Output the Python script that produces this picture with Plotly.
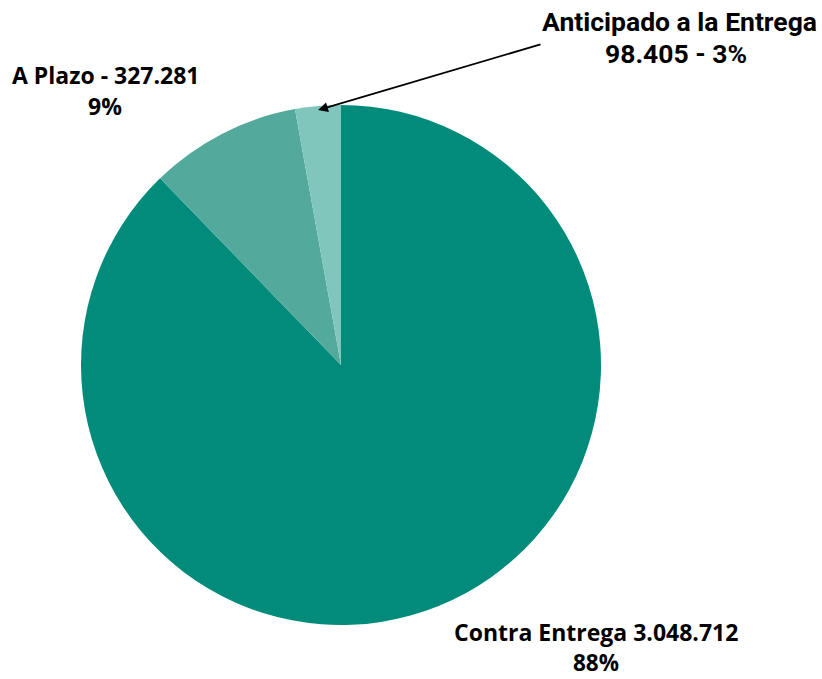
import plotly.graph_objects as go

# Payment-type breakdown
labels = ["Contra Entrega", "A Plazo", "Anticipado a la Entrega"]
values = [3048712, 327281, 98405]
colors = ["#008b7a", "#52a99c", "#80c6bc"]

W, H = 822, 679
cx, cy, r = 341, 365, 260

fig = go.Figure(go.Pie(
    labels=labels,
    values=values,
    marker=dict(colors=colors, line=dict(width=0)),
    sort=False,
    direction="clockwise",
    rotation=0,
    textinfo="none",
    hoverinfo="label+value+percent",
    showlegend=False,
    domain=dict(x=[(cx - r) / W, (cx + r) / W],
                y=[(H - cy - r) / H, (H - cy + r) / H]),
))


def fmt(v):
    return f"{v:,}".replace(",", ".")


total = sum(values)
pct = [round(v / total * 100) for v in values]


def px(x, y):
    return x / W, 1 - y / H


annotations = []


def add_line(text, x, y, family, size, pad=1):
    ax_, ay_ = px(x, y)
    annotations.append(dict(
        text=f"<b>{text}</b>", x=ax_, y=ay_, xref="paper", yref="paper",
        xanchor="center", yanchor="middle", showarrow=False, borderpad=pad,
        font=dict(family=family, size=size, color="#000000"),
    ))


# Anticipado a la Entrega (top right, with pointer)
add_line(labels[2], 679, 22, "Roboto", 26.5)
add_line(f"{fmt(values[2])} - {pct[2]}%", 676, 54, "Roboto", 26.5)
hx, hy = px(318, 110)
annotations.append(dict(
    text="", x=hx, y=hy, xref="paper", yref="paper",
    showarrow=True, ax=542 - 318, ay=44 - 110,
    arrowhead=2, arrowsize=1.1, arrowwidth=1.8, arrowcolor="#000000",
))

# A Plazo (top left)
add_line(f"{labels[1]} - {fmt(values[1])}", 105, 75, "Open Sans", 23)
add_line(f"{pct[1]}%", 105, 106, "Open Sans", 23)

# Contra Entrega (bottom right)
add_line(f"{labels[0]} {fmt(values[0])}", 596, 632, "Open Sans", 23)
add_line(f"{pct[0]}%", 596, 662, "Open Sans", 22.5, pad=0)

fig.update_layout(
    width=W, height=H,
    margin=dict(l=0, r=0, t=0, b=0),
    paper_bgcolor="#ffffff",
    plot_bgcolor="#ffffff",
    annotations=annotations,
)

fig.write_html("out.html")
